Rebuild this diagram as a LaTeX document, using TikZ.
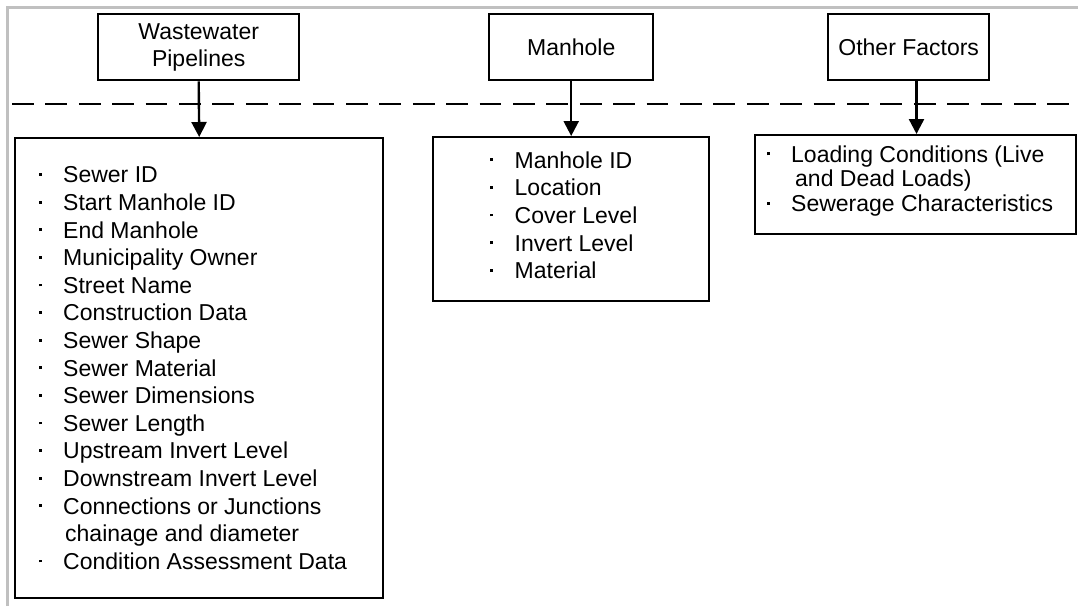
\documentclass[tikz,border=0pt]{standalone}
\usepackage{fontspec}
\setmainfont{Liberation Sans}
\usetikzlibrary{arrows.meta}
% one bullet line of a list: small square dot, then the entry
\newcommand\bulletline[1]{\strut\makebox[26pt][l]{\hspace{1.5pt}\rule[7pt]{2.8pt}{2.8pt}}#1}
\begin{document}
\begin{tikzpicture}[x=1pt,y=-1pt,
  frame/.style={draw=black, line width=2.4pt, rectangle, inner sep=0pt, anchor=north west},
  head/.style={frame, align=center, font=\fontsize{23}{27.4}\selectfont},
  listtext/.style={inner sep=0pt, anchor=north west, align=left, font=\fontsize{23}{27.6}\selectfont},
  link/.style={line width=2.4pt, -{Triangle[length=15pt,width=15pt]}},
  divider/.style={line width=2.8pt, dash pattern=on 21.7pt off 11.7pt},
  outline/.style={draw={rgb,255:red,192;green,192;blue,192}, line width=3pt}
  ]
\useasboundingbox (0,0) rectangle (1078,606);

% light page outline along the top and left
\coordinate (olb) at (7,606);
\coordinate (olc) at (7,7.5);
\coordinate (olr) at (1078,7.5);
\draw[outline] (olb) -- (olc) -- (olr);

% category headings
\node[head, minimum width=201pt, minimum height=66pt] (pipes) at (97,13) {Wastewater\\Pipelines};
\node[head, minimum width=164pt, minimum height=66pt] (manhole) at (488,13) {Manhole};
\node[head, minimum width=161pt, minimum height=66pt] (other) at (827,13) {Other Factors};

% dashed separator
\coordinate (dl) at (12,104);
\coordinate (dr) at (1078,104);
\draw[divider] (dl) -- (dr);

% attribute boxes
\node[frame, minimum width=368pt, minimum height=460pt] (pipelist) at (14,137) {};
\node[frame, minimum width=276pt, minimum height=164pt] (manholelist) at (432,136) {};
\node[frame, minimum width=321pt, minimum height=99pt] (otherlist) at (754,134) {};

\node[listtext] (pipeitems) at (37,163.4) {%
\bulletline{Sewer ID}\\
\bulletline{Start Manhole ID}\\
\bulletline{End Manhole}\\
\bulletline{Municipality Owner}\\
\bulletline{Street Name}\\
\bulletline{Construction Data}\\
\bulletline{Sewer Shape}\\
\bulletline{Sewer Material}\\
\bulletline{Sewer Dimensions}\\
\bulletline{Sewer Length}\\
\bulletline{Upstream Invert Level}\\
\bulletline{Downstream Invert Level}\\
\bulletline{Connections or Junctions}\\
\strut\hspace{28pt}chainage and diameter\\
\bulletline{Condition Assessment Data}};

\node[listtext] (manholeitems) at (488.5,148.7) {%
\bulletline{Manhole ID}\\
\bulletline{Location}\\
\bulletline{Cover Level}\\
\bulletline{Invert Level}\\
\bulletline{Material}};

\node[listtext, font=\fontsize{23}{23.3}\selectfont] (otheritems) at (765,145.4) {%
\bulletline{Loading Conditions (Live}\\
\strut\hspace{30pt}and Dead Loads)\\
\bulletline{Sewerage Characteristics}};

% heading-to-box arrows
\draw[link] (pipes.south) -- (pipelist.north);
\draw[link] (manhole.south) -- (manholelist.north);
\coordinate (otherfoot) at (916.5,79);
\draw[link] (otherfoot) -- (otherfoot |- otherlist.north);
\end{tikzpicture}
\end{document}
